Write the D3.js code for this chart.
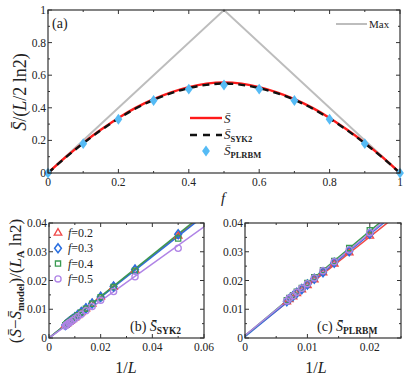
<!DOCTYPE html>
<html>
<head>
<meta charset="utf-8">
<script src="https://cdn.jsdelivr.net/npm/d3@7"></script>
<style>
  body { margin: 0; background: #fff; }
  svg text { font-family: "Liberation Serif", "DejaVu Serif", serif; fill: #222; }
</style>
</head>
<body>
<svg id="fig" width="407" height="380"></svg>
<script>
// panel (a): entanglement vs filling f
var fGrid = [0, 0.05, 0.1, 0.15, 0.2, 0.25, 0.3, 0.35, 0.4, 0.45, 0.5, 0.55, 0.6, 0.65, 0.7, 0.75, 0.8, 0.85, 0.9, 0.95, 1];
var sBar = [0, 0.097, 0.185, 0.265, 0.338, 0.401, 0.453, 0.495, 0.527, 0.548, 0.556, 0.548, 0.527, 0.495, 0.453, 0.401, 0.338, 0.265, 0.185, 0.097, 0];
var sSyk2 = [0, 0.095, 0.182, 0.262, 0.334, 0.397, 0.449, 0.490, 0.521, 0.541, 0.549, 0.541, 0.521, 0.490, 0.449, 0.397, 0.334, 0.262, 0.182, 0.095, 0];
var fPts = [0, 0.1, 0.2, 0.3, 0.4, 0.5, 0.6, 0.7, 0.8, 0.9, 1];
var sPlrbm = [0, 0.18, 0.33, 0.445, 0.515, 0.54, 0.515, 0.445, 0.33, 0.18, 0];
var maxF = [0, 0.5, 1];
var maxS = [0, 1, 0];

// panels (b) and (c): finite size corrections
var fLabels = ["f=0.2", "f=0.3", "f=0.4", "f=0.5"];
var colors = ["#f04848", "#2a6fe0", "#3a9a52", "#b084e6"];
var shapes = ["triangle", "diamond", "square", "circle"];

var invLb = [0.05, 0.0333, 0.025, 0.02, 0.0167, 0.0143, 0.0125, 0.0111, 0.01, 0.0091, 0.0083, 0.0077, 0.0071, 0.0067, 0.0063];
var syk2Vals = [
    [0.0355, 0.0237, 0.0178, 0.0143, 0.0119, 0.0102, 0.0089, 0.0079, 0.0071, 0.0065, 0.0059, 0.0055, 0.0051, 0.0048, 0.0045],
    [0.0361, 0.0238, 0.0179, 0.0143, 0.0120, 0.0103, 0.0090, 0.0080, 0.0072, 0.0065, 0.0060, 0.0055, 0.0051, 0.0048, 0.0045],
    [0.0346, 0.0234, 0.0177, 0.0142, 0.0119, 0.0102, 0.0089, 0.0079, 0.0071, 0.0065, 0.0059, 0.0055, 0.0051, 0.0047, 0.0044],
    [0.0312, 0.0213, 0.0162, 0.0131, 0.0110, 0.0095, 0.0083, 0.0074, 0.0067, 0.0061, 0.0056, 0.0052, 0.0048, 0.0045, 0.0042]
];
var syk2Slope = [0.715, 0.708, 0.723, 0.645];
var syk2Icpt = [0, 0, 0, 0];

var invLc = [0.02, 0.0167, 0.0143, 0.0125, 0.0111, 0.01, 0.0091, 0.0083, 0.0077, 0.0071, 0.0067];
var plrbmVals = [
    [0.0355, 0.0297, 0.0258, 0.0227, 0.0203, 0.0183, 0.0168, 0.0155, 0.0144, 0.0134, 0.0126],
    [0.0363, 0.0302, 0.0262, 0.0229, 0.0206, 0.0186, 0.0170, 0.0157, 0.0146, 0.0136, 0.0128],
    [0.0375, 0.0313, 0.0268, 0.0236, 0.0211, 0.0191, 0.0174, 0.0161, 0.0149, 0.0139, 0.0131],
    [0.0366, 0.0306, 0.0265, 0.0234, 0.0209, 0.0189, 0.0173, 0.0159, 0.0147, 0.0138, 0.0129]
];
var plrbmSlope = [1.72, 1.78, 1.82, 1.78];
var plrbmIcpt = [0.0008, 0.0005, 0.0008, 0.0009];

var svg = d3.select("#fig");

// Draw a framed box with inward ticks on all four sides (major + minor).
function frame(g, x, y, xMajor, xMinor, yMajor, yMinor, xFmt, yFmt) {
    var x0 = x.range()[0], x1 = x.range()[1], y0 = y.range()[0], y1 = y.range()[1];
    g.append("rect").attr("x", x0).attr("y", y1).attr("width", x1 - x0).attr("height", y0 - y1)
        .attr("fill", "none").attr("stroke", "#333").attr("stroke-width", 1.2);
    var tk = g.append("g").attr("stroke", "#333").attr("stroke-width", 1);
    xMinor.forEach(function (v) {
        tk.append("line").attr("x1", x(v)).attr("x2", x(v)).attr("y1", y0).attr("y2", y0 - 2);
        tk.append("line").attr("x1", x(v)).attr("x2", x(v)).attr("y1", y1).attr("y2", y1 + 2);
    });
    xMajor.forEach(function (v) {
        tk.append("line").attr("x1", x(v)).attr("x2", x(v)).attr("y1", y0).attr("y2", y0 - 4);
        tk.append("line").attr("x1", x(v)).attr("x2", x(v)).attr("y1", y1).attr("y2", y1 + 4);
        g.append("text").attr("x", x(v)).attr("y", y0 + 13).attr("text-anchor", "middle")
            .attr("font-size", 11.5).text(xFmt(v));
    });
    yMinor.forEach(function (v) {
        tk.append("line").attr("y1", y(v)).attr("y2", y(v)).attr("x1", x0).attr("x2", x0 + 2);
        tk.append("line").attr("y1", y(v)).attr("y2", y(v)).attr("x1", x1).attr("x2", x1 - 2);
    });
    yMajor.forEach(function (v) {
        tk.append("line").attr("y1", y(v)).attr("y2", y(v)).attr("x1", x0).attr("x2", x0 + 4);
        tk.append("line").attr("y1", y(v)).attr("y2", y(v)).attr("x1", x1).attr("x2", x1 - 4);
        g.append("text").attr("x", x0 - 2).attr("y", y(v) + 4).attr("text-anchor", "end")
            .attr("font-size", 11.5).text(yFmt(v));
    });
}

// Put an S-bar with a bold subscript into a text element.
function sbarLabel(t, sub, size) {
    t.append("tspan").attr("font-style", "italic").text("S\u0304");
    if (sub) t.append("tspan").attr("font-weight", "bold").attr("font-size", size)
        .attr("dy", 3).text(sub);
}

function marker(g, shape, cx, cy, color, r) {
    if (shape === "circle") {
        g.append("circle").attr("cx", cx).attr("cy", cy).attr("r", r)
            .attr("fill", "none").attr("stroke", color).attr("stroke-width", 1.3);
    } else {
        var sym = { triangle: d3.symbolTriangle, diamond: d3.symbolDiamond, square: d3.symbolSquare }[shape];
        var size = { triangle: r * r * 2.6, diamond: r * r * 2.4, square: r * r * 2.8 }[shape];
        g.append("path").attr("d", d3.symbol(sym, size)())
            .attr("transform", "translate(" + cx + "," + cy + ")" + (shape === "diamond" ? " scale(1.3,1)" : ""))
            .attr("fill", "none").attr("stroke", color).attr("stroke-width", 1.3);
    }
}

// ---------- panel (a) ----------
var xa = d3.scaleLinear().domain([0, 1]).range([48, 400]);
var ya = d3.scaleLinear().domain([0, 1]).range([173, 10]);
var ga = svg.append("g");

var lineA = d3.line().x(function (d) { return xa(d[0]); }).y(function (d) { return ya(d[1]); });
var smoothA = d3.line().curve(d3.curveMonotoneX)
    .x(function (d) { return xa(d[0]); }).y(function (d) { return ya(d[1]); });

ga.append("path").attr("d", lineA(d3.zip(maxF, maxS)))
    .attr("fill", "none").attr("stroke", "#bdbdbd").attr("stroke-width", 2);
ga.append("path").attr("d", smoothA(d3.zip(fGrid, sBar)))
    .attr("fill", "none").attr("stroke", "#ff1a1a").attr("stroke-width", 2.4);
ga.append("path").attr("d", smoothA(d3.zip(fGrid, sSyk2)))
    .attr("fill", "none").attr("stroke", "#111").attr("stroke-width", 2.4)
    .attr("stroke-dasharray", "7,5");
var dia = d3.symbol(d3.symbolDiamond, 34);
ga.selectAll("path.pl").data(d3.zip(fPts, sPlrbm)).join("path").attr("class", "pl")
    .attr("d", dia).attr("fill", "#55bbf5")
    .attr("transform", function (d) { return "translate(" + xa(d[0]) + "," + ya(d[1]) + ") scale(1.25,1)"; });

frame(ga, xa, ya, [0, 0.2, 0.4, 0.6, 0.8, 1], [0.1, 0.3, 0.5, 0.7, 0.9],
    [0, 0.2, 0.4, 0.6, 0.8, 1], [0.1, 0.3, 0.5, 0.7, 0.9],
    function (v) { return v === 0 || v === 1 ? v : d3.format(".1f")(v); },
    function (v) { return v === 0 || v === 1 ? v : d3.format(".1f")(v); });

ga.append("text").attr("x", 52).attr("y", 28).attr("font-size", 14).text("(a)");

// legend (a)
ga.append("line").attr("x1", 336).attr("x2", 367).attr("y1", 24).attr("y2", 24)
    .attr("stroke", "#bdbdbd").attr("stroke-width", 2);
ga.append("text").attr("x", 369).attr("y", 28).attr("font-size", 11).text("Max");
ga.append("line").attr("x1", 190).attr("x2", 222).attr("y1", 118).attr("y2", 118)
    .attr("stroke", "#ff1a1a").attr("stroke-width", 2.4);
sbarLabel(ga.append("text").attr("x", 224).attr("y", 123).attr("font-size", 13), null, 8);
ga.append("line").attr("x1", 190).attr("x2", 222).attr("y1", 135).attr("y2", 135)
    .attr("stroke", "#111").attr("stroke-width", 2.4).attr("stroke-dasharray", "7,6");
sbarLabel(ga.append("text").attr("x", 224).attr("y", 139).attr("font-size", 13), "SYK2", 8.5);
ga.append("path").attr("d", dia).attr("fill", "#55bbf5").attr("transform", "translate(206,151) scale(1.25,1)");
sbarLabel(ga.append("text").attr("x", 224).attr("y", 155).attr("font-size", 13), "PLRBM", 8.5);

// axis labels (a)
var yla = ga.append("text").attr("transform", "translate(26,92) rotate(-90)")
    .attr("text-anchor", "middle").attr("font-size", 18);
yla.append("tspan").attr("font-style", "italic").text("S\u0304");
yla.append("tspan").text("/(");
yla.append("tspan").attr("font-style", "italic").text("L");
yla.append("tspan").text("/2 ln2)");
ga.append("text").attr("x", 223).attr("y", 203).attr("text-anchor", "middle")
    .attr("font-size", 15).attr("font-style", "italic").text("f");

// ---------- panels (b), (c) ----------
function fitPanel(xr, xdom, invL, vals, slopes, icpts, clipId) {
    var x = d3.scaleLinear().domain(xdom).range(xr);
    var y = d3.scaleLinear().domain([0, 0.04]).range([338, 223]);
    var g = svg.append("g");
    g.append("clipPath").attr("id", clipId).append("rect")
        .attr("x", xr[0]).attr("y", 223).attr("width", xr[1] - xr[0]).attr("height", 115);
    var body = g.append("g").attr("clip-path", "url(#" + clipId + ")");
    var ln = d3.line().x(function (d) { return x(d[0]); }).y(function (d) { return y(d[1]); });
    vals.forEach(function (series, k) {
        body.append("path").attr("d", ln([[0, icpts[k]], [xdom[1], icpts[k] + slopes[k] * xdom[1]]]))
            .attr("fill", "none").attr("stroke", colors[k]).attr("stroke-width", 1.5);
    });
    vals.forEach(function (series, k) {
        series.forEach(function (v, i) {
            marker(body, shapes[k], x(invL[i]), y(v), colors[k], 3.1);
        });
    });
    return { g: g, x: x, y: y };
}

var pb = fitPanel([49, 204], [0, 0.06], invLb, syk2Vals, syk2Slope, syk2Icpt, "clipb");
frame(pb.g, pb.x, pb.y, [0, 0.02, 0.04, 0.06], [0.01, 0.03, 0.05],
    [0, 0.01, 0.02, 0.03, 0.04], [0.005, 0.015, 0.025, 0.035],
    function (v) { return v === 0 ? "0" : d3.format(".2f")(v); },
    function (v) { return v === 0 ? "0" : d3.format(".2f")(v); });

var pc = fitPanel([245, 401], [0, 0.025], invLc, plrbmVals, plrbmSlope, plrbmIcpt, "clipc");
frame(pc.g, pc.x, pc.y, [0, 0.01, 0.02], [0.005, 0.015, 0.025],
    [0, 0.01, 0.02, 0.03, 0.04], [0.005, 0.015, 0.025, 0.035],
    function (v) { return v === 0 ? "0" : d3.format(".2f")(v); },
    function (v) { return v === 0 ? "0" : d3.format(".2f")(v); });

// legend (b)
fLabels.forEach(function (lab, k) {
    var cy = 233 + k * 15.3;
    marker(pb.g, shapes[k], 58, cy, colors[k], 3.1);
    var t = pb.g.append("text").attr("x", 68).attr("y", cy + 4).attr("font-size", 12);
    t.append("tspan").attr("font-style", "italic").text("f");
    t.append("tspan").text(lab.slice(1));
});

var tb = pb.g.append("text").attr("x", 130).attr("y", 331).attr("font-size", 14);
tb.append("tspan").text("(b) ");
sbarLabel(tb, "SYK2", 9.5);
var tc = pc.g.append("text").attr("x", 317).attr("y", 331).attr("font-size", 14);
tc.append("tspan").text("(c) ");
sbarLabel(tc, "PLRBM", 9.5);

// axis labels (b), (c)
var ylb = svg.append("text").attr("transform", "translate(21,281) rotate(-90)")
    .attr("text-anchor", "middle").attr("font-size", 17);
ylb.append("tspan").text("(");
ylb.append("tspan").attr("font-style", "italic").text("S\u0304");
ylb.append("tspan").text("\u2212");
ylb.append("tspan").attr("font-style", "italic").text("S\u0304");
ylb.append("tspan").attr("font-size", 10.5).attr("font-weight", "bold").attr("dy", 3).text("model");
ylb.append("tspan").attr("dy", -3).text(")/(");
ylb.append("tspan").attr("font-style", "italic").text("L");
ylb.append("tspan").attr("font-size", 10.5).attr("font-weight", "bold").attr("dy", 3).text("A");
ylb.append("tspan").attr("dy", -3).text(" ln2)");

[126, 316].forEach(function (cx) {
    var t = svg.append("text").attr("x", cx).attr("y", 373).attr("text-anchor", "middle").attr("font-size", 16);
    t.append("tspan").text("1/");
    t.append("tspan").attr("font-style", "italic").text("L");
});
</script>
</body>
</html>
